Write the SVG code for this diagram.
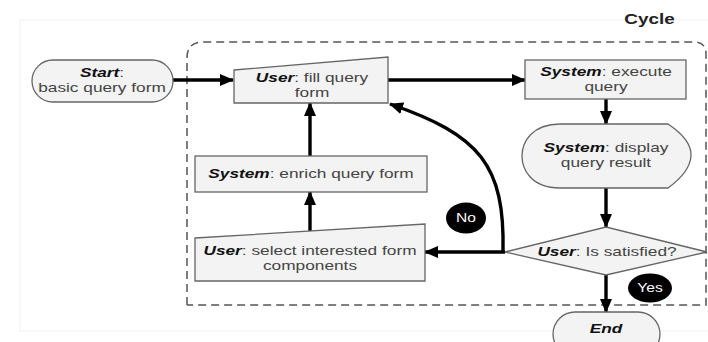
<svg xmlns="http://www.w3.org/2000/svg" width="708" height="342" viewBox="0 0 708 342">
<style>
.shape{fill:#f3f3f3;stroke:#666;stroke-width:1.3}
.t{font-family:"Liberation Sans",Arial,sans-serif;font-size:13px;fill:#444;text-anchor:middle}
.b{font-weight:bold;font-style:italic;fill:#111}
.c{stroke:#000;stroke-width:3.4;fill:none;marker-end:url(#ah)}
.lab{fill:#000}
.lt{font-family:"Liberation Sans",Arial,sans-serif;font-size:12px;fill:#fff;text-anchor:middle}
</style>
<defs>
<marker id="ah" markerUnits="userSpaceOnUse" viewBox="0 0 14 12" refX="13" refY="6" markerWidth="14" markerHeight="12" orient="auto">
<path d="M0,0 L14,6 L0,12 Z" fill="#000"/>
</marker>
</defs>
<rect width="708" height="342" fill="#fff"/>
<rect x="20" y="20" width="700" height="311" fill="none" stroke="#f6f6f6" stroke-width="1.5"/>
<g id="cycle">
<path d="M187,305 V58 Q187,42 203,42 H694 Q706,42 706,54 V305 H187" fill="none" stroke="#555" stroke-width="1.5" stroke-dasharray="8,5"/>
<text class="t" style="font-weight:bold;font-size:14px;fill:#222" transform="translate(649.5,24) scale(1.35,1)">Cycle</text>
</g>
<g id="connectors">
<path class="c" d="M173,80 H233"/>
<path class="c" d="M388,80 H525"/>
<path class="c" d="M606,99 V124"/>
<path class="c" d="M606,188 V227"/>
<path class="c" d="M606,275 V312"/>
<path class="c" d="M505,252 H425"/>
<path class="c" d="M503,252 C505,165 480,135 390,104"/>
<path class="c" d="M310,156 V103"/>
<path class="c" d="M310,231 V192"/>
</g>
<g id="start">
<rect class="shape" x="32" y="60" width="141" height="42" rx="21"/>
<text class="t" transform="translate(102,77) scale(1.33,1)"><tspan class="b">Start</tspan>:</text>
<text class="t" transform="translate(102,92) scale(1.33,1)">basic query form</text>
</g>
<g id="fill">
<path class="shape" d="M234,70 L388,57 L388,103 L234,103 Z"/>
<text class="t" transform="translate(312,82) scale(1.33,1)"><tspan class="b">User</tspan>: fill query</text>
<text class="t" transform="translate(312,97) scale(1.33,1)">form</text>
</g>
<g id="execute">
<rect class="shape" x="525" y="60" width="161" height="39"/>
<text class="t" transform="translate(606,76) scale(1.33,1)"><tspan class="b">System</tspan>: execute</text>
<text class="t" transform="translate(606,91) scale(1.33,1)">query</text>
</g>
<g id="display">
<path class="shape" d="M560,124 H668 Q692,140 691,156 Q690,172 668,188 H560 C530,188 522,168 522,156 C522,142 532,124 560,124 Z"/>
<text class="t" transform="translate(606,152) scale(1.33,1)"><tspan class="b">System</tspan>: display</text>
<text class="t" transform="translate(606,167) scale(1.33,1)">query result</text>
</g>
<g id="decision">
<path class="shape" d="M505,252 L606,227 L707,252 L606,275 Z"/>
<text class="t" transform="translate(607,256) scale(1.33,1)"><tspan class="b">User</tspan>: Is satisfied?</text>
</g>
<g id="end">
<rect class="shape" x="553" y="312" width="107" height="44" rx="22"/>
<text class="t" transform="translate(606,333) scale(1.33,1)"><tspan class="b">End</tspan></text>
</g>
<g id="enrich">
<rect class="shape" x="195" y="156" width="232" height="36"/>
<text class="t" transform="translate(311,178) scale(1.33,1)"><tspan class="b">System</tspan>: enrich query form</text>
</g>
<g id="select">
<path class="shape" d="M195,238 L425,224 L425,281 L195,281 Z"/>
<text class="t" transform="translate(310,255) scale(1.33,1)"><tspan class="b">User</tspan>: select interested form</text>
<text class="t" transform="translate(310,270) scale(1.33,1)">components</text>
</g>
<g id="label-no">
<ellipse class="lab" cx="466" cy="218" rx="20" ry="15.5"/>
<text class="lt" transform="translate(466,222) scale(1.3,1)">No</text>
</g>
<g id="label-yes">
<ellipse class="lab" cx="650" cy="288" rx="22" ry="14.5"/>
<text class="lt" transform="translate(650,292) scale(1.3,1)">Yes</text>
</g>
</svg>
